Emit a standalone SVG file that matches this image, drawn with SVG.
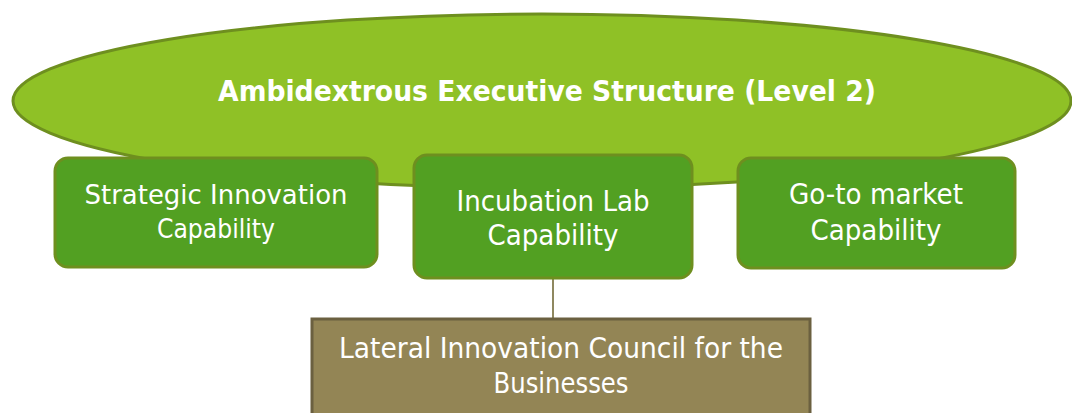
<svg xmlns="http://www.w3.org/2000/svg" width="1072" height="413" viewBox="0 0 1072 413">
<style>
.t{font-family:"DejaVu Sans","Liberation Sans",sans-serif;fill:#ffffff;text-anchor:middle}
.box{fill:#52a022;stroke:#6e8f1f;stroke-width:3}
</style>
<rect width="1072" height="413" fill="#ffffff"/>
<g id="top">
<ellipse cx="542" cy="101" rx="529" ry="87" fill="#8fc126" stroke="#6e8f1f" stroke-width="3"/>
<text class="t" x="547" y="101" font-size="29" font-weight="bold" textLength="658" lengthAdjust="spacingAndGlyphs">Ambidextrous Executive Structure (Level 2)</text>
</g>
<g id="connectors">
<line x1="553" y1="279" x2="553" y2="318" stroke="#8f8860" stroke-width="2"/>
</g>
<g id="strategic">
<rect class="box" x="55" y="158" width="322" height="109" rx="13"/>
<text class="t" x="216" y="204" font-size="27" textLength="263" lengthAdjust="spacingAndGlyphs">Strategic Innovation</text>
<text class="t" x="216" y="238" font-size="26" textLength="118" lengthAdjust="spacingAndGlyphs">Capability</text>
</g>
<g id="incubation">
<rect class="box" x="414" y="155" width="278" height="123" rx="13"/>
<text class="t" x="553" y="211" font-size="28" textLength="193" lengthAdjust="spacingAndGlyphs">Incubation Lab</text>
<text class="t" x="553" y="245" font-size="28" textLength="131" lengthAdjust="spacingAndGlyphs">Capability</text>
</g>
<g id="gotomarket">
<rect class="box" x="738" y="158" width="277" height="110" rx="13"/>
<text class="t" x="876" y="204" font-size="28" textLength="174" lengthAdjust="spacingAndGlyphs">Go-to market</text>
<text class="t" x="876" y="240" font-size="28" textLength="131" lengthAdjust="spacingAndGlyphs">Capability</text>
</g>
<g id="council">
<rect x="312" y="319" width="498" height="110" fill="#938555" stroke="#6b6040" stroke-width="3"/>
<text class="t" x="561" y="358" font-size="28" textLength="444" lengthAdjust="spacingAndGlyphs">Lateral Innovation Council for the</text>
<text class="t" x="561" y="393" font-size="28" textLength="135" lengthAdjust="spacingAndGlyphs">Businesses</text>
</g>
</svg>
